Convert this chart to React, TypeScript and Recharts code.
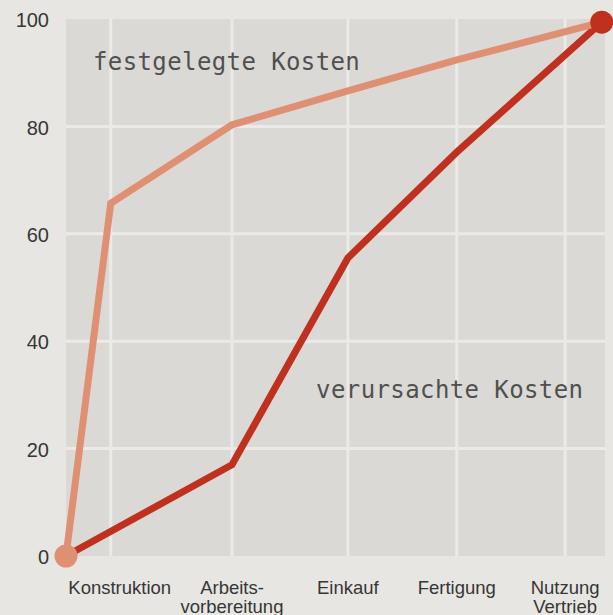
import {
  CartesianGrid,
  ComposedChart,
  Line,
  ReferenceDot,
  XAxis,
  YAxis,
} from "recharts";

// phases along the x axis (position in % of the product life cycle)
const phaseNames = ["Konstruktion", "Arbeits-\nvorbereitung", "Einkauf", "Fertigung", "Nutzung\nVertrieb"];
const phasePos = [8.3, 30.8, 52.3, 72.5, 92.6];

// festgelegte Kosten (committed cost, %)
const fixedX = [0, 8.3, 30.8, 52.3, 72.5, 99.4];
const fixedY = [0, 65.7, 80.3, 86.6, 92.4, 99.4];

// verursachte Kosten (incurred cost, %)
const causedX = [0, 30.8, 52.3, 72.5, 99.4];
const causedY = [0, 17, 55.5, 75.2, 99.4];

const yTicks = [0, 20, 40, 60, 80, 100];
const gridY = [20, 40, 60, 80];

// annotation texts and where they sit (data coords)
const notes = [
  { text: "festgelegte Kosten", x: 5.0, y: 92 },
  { text: "verursachte Kosten", x: 46.4, y: 31 },
];

const fixedData = fixedX.map((x, i) => ({ x, y: fixedY[i] }));
const causedData = causedX.map((x, i) => ({ x, y: causedY[i] }));

const ORANGE = "#e09072";
const RED = "#c0301f";
const SANS = "'Liberation Sans', Arial, sans-serif";

function PhaseTick(props: any) {
  const { x, y, payload } = props;
  const i = phasePos.indexOf(payload.value);
  if (i < 0) return null;
  const lines = phaseNames[i].split("\n");
  const px = x + (i === 0 ? 9 : 0);
  return (
    <text textAnchor="middle" fontSize={18.5} fill="#363636" fontFamily={SANS}>
      {lines.map((l, k) => (
        <tspan key={k} x={px} y={y + 38 + k * 18.5}>
          {l}
        </tspan>
      ))}
    </text>
  );
}

function endDot(which: "first" | "last", color: string, len: number) {
  return (p: any) => {
    const show = which === "first" ? p.index === 0 : p.index === len - 1;
    if (!show) return <g key={p.index} />;
    return <circle key={p.index} cx={p.cx} cy={p.cy} r={11.5} fill={color} />;
  };
}

export default function App() {
  return (
    <div
      style={{
        position: "fixed",
        left: 0,
        top: 0,
        width: 613,
        height: 615,
        background: "#e7e6e2",
      }}
    >
      <ComposedChart
        width={613}
        height={615}
        margin={{ top: 19, right: 8, bottom: 0, left: 0 }}
      >
        <CartesianGrid
          fill="#dad9d5"
          stroke="#ebeae6"
          strokeWidth={3}
          horizontalValues={gridY}
          verticalValues={phasePos}
        />
        <XAxis
          type="number"
          dataKey="x"
          domain={[0, 100]}
          ticks={phasePos}
          interval={0}
          height={59}
          axisLine={false}
          tickLine={false}
          tickSize={0}
          tickMargin={0}
          tick={<PhaseTick />}
        />
        <YAxis
          type="number"
          dataKey="y"
          domain={[0, 100]}
          ticks={yTicks}
          width={66}
          axisLine={false}
          tickLine={false}
          tickSize={8}
          tickMargin={9}
          tick={{ fontSize: 20, fill: "#363636", fontFamily: SANS, dy: 1 }}
        />
        <Line
          data={causedData}
          dataKey="y"
          type="linear"
          stroke={RED}
          strokeWidth={7}
          dot={false}
          activeDot={false}
          isAnimationActive={false}
        />
        <Line
          data={fixedData}
          dataKey="y"
          type="linear"
          stroke={ORANGE}
          strokeWidth={7}
          dot={endDot("first", ORANGE, fixedData.length)}
          activeDot={false}
          isAnimationActive={false}
        />
        <Line
          data={causedData}
          dataKey="y"
          type="linear"
          stroke="none"
          dot={endDot("last", RED, causedData.length)}
          activeDot={false}
          isAnimationActive={false}
        />
        {notes.map((n) => (
          <ReferenceDot
            key={n.text}
            x={n.x}
            y={n.y}
            r={0}
            ifOverflow="visible"
            shape={(p: any) => (
              <text
                x={p.cx}
                y={p.cy}
                dominantBaseline="central"
                fontSize={24}
                letterSpacing={0.4}
                fill="#505050"
                fontFamily="'DejaVu Sans Mono', monospace"
              >
                {n.text}
              </text>
            )}
          />
        ))}
      </ComposedChart>
    </div>
  );
}
